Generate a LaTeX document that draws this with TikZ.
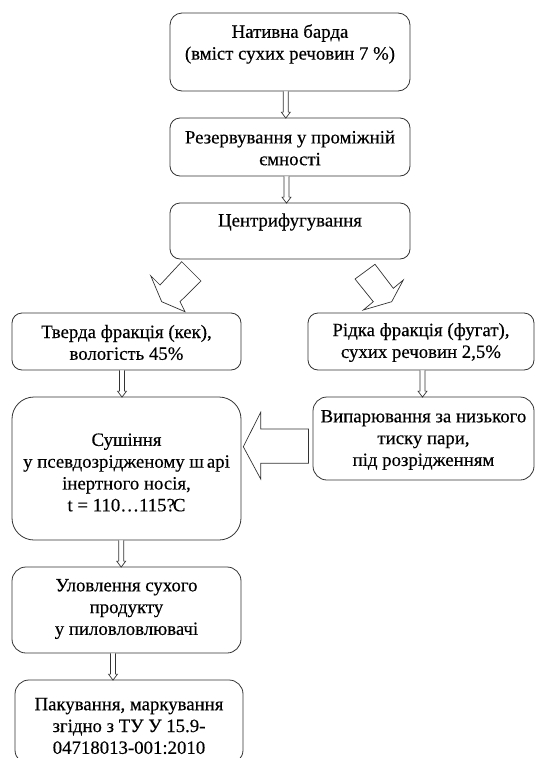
\documentclass[tikz,border=0pt]{standalone}
\usepackage{fontspec}
\setmainfont{Liberation Serif}[FakeBold=0.35]
\usetikzlibrary{calc}
\newcommand\smallflow[3]{%
  \draw[conn] let \p1=(#1.south), \p2=(#2.north) in
    (#3pt-2.5pt,\y1) -- (#3pt-2.5pt,\y2+5.5pt) -- (#3pt-4.5pt,\y2+5.5pt) -- (#3pt,\y2-0.5pt)
    -- (#3pt+4.5pt,\y2+5.5pt) -- (#3pt+2.5pt,\y2+5.5pt) -- (#3pt+2.5pt,\y1);}
\begin{document}
\begin{tikzpicture}[x=1pt,y=-1pt,
  box/.style={draw=black!80, line width=0.8pt, rounded corners=#1, inner sep=0pt},
  box/.default=10pt,
  txt/.style={font=\fontsize{18.8}{21.8}\selectfont, align=center, inner sep=0pt, text=black},
  conn/.style={draw=black!80, line width=0.7pt, fill=white, line join=miter},
  ]
\useasboundingbox (0,0) rectangle (536,758);
\clip (0,0) rectangle (536,758);

% boxes
\node[box=12pt, minimum width=240pt, minimum height=78pt] (b1) at (290,52) {};
\node[txt] (t1) at ($(b1.center)+(0,-8)$) {Нативна барда\\(вміст сухих речовин 7 \%)};

\node[box, minimum width=240pt, minimum height=58pt] (b2) at (290,147) {};
\node[txt] (t2) at ($(b2.center)+(0,1)$) {Резервування у проміжній\\ємності};

\node[box, minimum width=240pt, minimum height=56pt] (b3) at (290,231) {};
\node[txt] (t3) at ($(b3.center)+(0,-9)$) {Центрифугування};

\node[box, minimum width=229pt, minimum height=57pt] (tv) at (126.5,341.5) {};
\node[txt] (t4) at ($(tv.center)+(0,1)$) {Тверда фракція (кек),\\вологість 45\%};

\node[box, minimum width=226pt, minimum height=57pt] (rd) at (421,341.5) {};
\node[txt] (t5) at ($(rd.center)+(0,1)$) {Рідка фракція (фугат),\\сухих речовин 2,5\%};

\node[box=14pt, minimum width=221pt, minimum height=83pt] (vp) at (423.5,438.5) {};
\node[txt] (t6) at ($(vp.center)+(0,1.5)$) {Випарювання за низького\\тиску пари,\\під розрідженням};

\node[box=22pt, minimum width=229pt, minimum height=143pt] (su) at (126.5,468.5) {};
\node[txt] (t7) at ($(su.center)+(0,4)$) {Сушіння\\у псевдозрідженому ш\kern3pt{}арі\\інертного носія,\\t = 110…115?\kern-2pt{}С};

\node[box=14pt, minimum width=229pt, minimum height=86pt] (ul) at (126.5,610) {};
\node[txt] (t8) at ($(ul.center)+(0,-1)$) {Уловлення сухого\\продукту\\у пиловловлювачі};

\node[box=14pt, minimum width=228pt, minimum height=84pt] (pk) at (129,722) {};
\node[txt] (t9) at ($(pk.center)+(0,4)$) {Пакування, маркування\\згідно з ТУ У 15.9-\\04718013-001:2010};

% small hollow arrows
\smallflow{b1}{b2}{285.8}
\smallflow{b2}{b3}{286.5}
\smallflow{tv}{su}{122}
\smallflow{rd}{vp}{422.5}
\smallflow{su}{ul}{121.2}
\smallflow{ul}{pk}{113}

% block arrows
\draw[conn] (181.7,261.7) -- (201,281) -- (180,301.7) -- (185,311.7) -- (161.7,301.7)
  -- (150.7,275.7) -- (160,285) -- cycle;
\draw[conn] (375,264.3) -- (355,279) -- (373.3,301.7) -- (363.3,310) -- (391.7,301.7)
  -- (403.3,280) -- (393.3,288.3) -- cycle;
\draw[conn] (243.3,446.7) -- (260.7,412.3) -- (260.7,429) -- (308.5,429) -- (308.5,463.3)
  -- (260.7,463.3) -- (260.7,479) -- cycle;
\end{tikzpicture}
\end{document}
